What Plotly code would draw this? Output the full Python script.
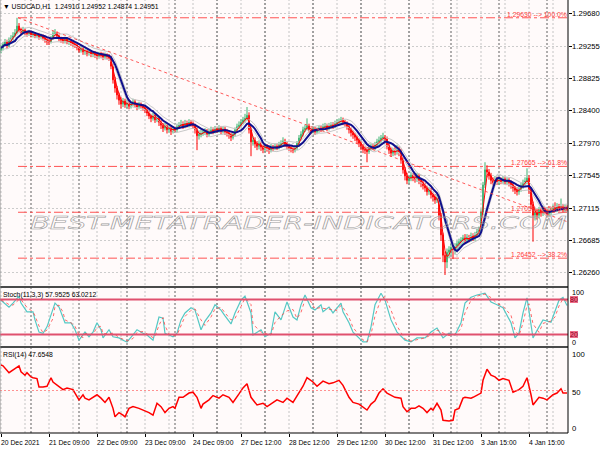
import plotly.graph_objects as go
import pandas as pd

# ---------------- data ----------------
OPEN_FIRST = 1.2920
CLOSE = [
 1.2923,1.2928,1.2931,1.2926,1.2934,1.2936,1.2939,1.2943,1.2952,1.2947,
 1.2944,1.2947,1.2943,1.2942,1.2944,1.2940,1.2942,1.2939,1.2940,1.2938,
 1.2939,1.2936,1.2934,1.2931,1.2931,1.2936,1.2942,1.2943,1.2939,1.2935,
 1.2934,1.2932,1.2935,1.2931,1.2932,1.2930,1.2928,1.2927,1.2924,1.2920,
 1.2922,1.2918,1.2919,1.2916,1.2918,1.2915,1.2916,1.2914,1.2912,1.2915,
 1.2914,1.2911,1.2914,1.2912,1.2910,1.2899,1.2881,1.2870,1.2861,1.2854,
 1.2849,1.2853,1.2848,1.2850,1.2846,1.2849,1.2852,1.2848,1.2845,1.2849,
 1.2846,1.2844,1.2841,1.2837,1.2833,1.2830,1.2834,1.2828,1.2830,1.2825,
 1.2821,1.2817,1.2820,1.2815,1.2817,1.2813,1.2816,1.2815,1.2819,1.2821,
 1.2823,1.2820,1.2824,1.2821,1.2825,1.2823,1.2820,1.2815,1.2807,1.2809,
 1.2811,1.2812,1.2813,1.2809,1.2812,1.2815,1.2813,1.2816,1.2815,1.2817,
 1.2813,1.2816,1.2812,1.2811,1.2808,1.2805,1.2809,1.2815,1.2819,1.2821,
 1.2825,1.2828,1.2830,1.2834,1.2815,1.2799,1.2801,1.2796,1.2793,1.2797,
 1.2792,1.2789,1.2793,1.2791,1.2788,1.2792,1.2791,1.2793,1.2792,1.2795,
 1.2797,1.2800,1.2796,1.2793,1.2791,1.2789,1.2788,1.2791,1.2797,1.2804,
 1.2809,1.2815,1.2817,1.2820,1.2815,1.2813,1.2816,1.2812,1.2815,1.2817,
 1.2816,1.2819,1.2820,1.2817,1.2820,1.2821,1.2820,1.2823,1.2825,1.2826,
 1.2828,1.2825,1.2823,1.2819,1.2815,1.2811,1.2808,1.2805,1.2801,1.2797,
 1.2793,1.2789,1.2788,1.2786,1.2791,1.2793,1.2792,1.2795,1.2799,1.2801,
 1.2804,1.2805,1.2803,1.2793,1.2788,1.2784,1.2787,1.2786,1.2788,1.2786,
 1.2775,1.2762,1.2754,1.2748,1.2751,1.2755,1.2752,1.2750,1.2754,1.2748,
 1.2745,1.2741,1.2738,1.2733,1.2735,1.2729,1.2726,1.2722,1.2725,1.2702,
 1.2676,1.2649,1.2640,1.2653,1.2656,1.2659,1.2656,1.2661,1.2664,1.2667,
 1.2669,1.2672,1.2669,1.2673,1.2670,1.2675,1.2672,1.2676,1.2680,1.2682,
 1.2706,1.2742,1.2762,1.2759,1.2754,1.2748,1.2745,1.2750,1.2746,1.2748,
 1.2747,1.2750,1.2746,1.2748,1.2745,1.2742,1.2738,1.2735,1.2733,1.2737,
 1.2741,1.2745,1.2747,1.2751,1.2735,1.2716,1.2702,1.2706,1.2702,1.2709,
 1.2705,1.2710,1.2708,1.2704,1.2706,1.2709,1.2712,1.2710,1.2714,1.2712,
 1.2713,1.2709,1.2712,1.2710]
HIGH = [
 1.2927,1.2931,1.2935,1.2934,1.2937,1.2940,1.2944,1.2948,1.2963,1.2956,
 1.2950,1.2951,1.2949,1.2946,1.2947,1.2946,1.2945,1.2944,1.2943,1.2943,
 1.2942,1.2941,1.2939,1.2937,1.2935,1.2939,1.2946,1.2948,1.2945,1.2941,
 1.2938,1.2936,1.2938,1.2937,1.2935,1.2935,1.2933,1.2931,1.2929,1.2926,
 1.2925,1.2924,1.2922,1.2921,1.2921,1.2920,1.2919,1.2919,1.2917,1.2918,
 1.2918,1.2917,1.2917,1.2916,1.2915,1.2913,1.2902,1.2885,1.2873,1.2864,
 1.2858,1.2857,1.2856,1.2854,1.2853,1.2852,1.2856,1.2855,1.2851,1.2852,
 1.2851,1.2849,1.2847,1.2844,1.2840,1.2836,1.2838,1.2837,1.2834,1.2833,
 1.2828,1.2824,1.2824,1.2822,1.2821,1.2820,1.2820,1.2819,1.2823,1.2825,
 1.2828,1.2826,1.2828,1.2827,1.2829,1.2828,1.2826,1.2823,1.2818,1.2814,
 1.2815,1.2816,1.2817,1.2816,1.2816,1.2819,1.2818,1.2820,1.2819,1.2821,
 1.2820,1.2820,1.2819,1.2816,1.2814,1.2811,1.2813,1.2818,1.2823,1.2826,
 1.2829,1.2832,1.2836,1.2845,1.2838,1.2818,1.2806,1.2805,1.2800,1.2801,
 1.2799,1.2795,1.2797,1.2796,1.2794,1.2796,1.2795,1.2797,1.2796,1.2799,
 1.2801,1.2805,1.2803,1.2799,1.2796,1.2794,1.2792,1.2794,1.2800,1.2808,
 1.2813,1.2819,1.2822,1.2830,1.2823,1.2818,1.2820,1.2819,1.2818,1.2821,
 1.2820,1.2823,1.2824,1.2823,1.2824,1.2825,1.2825,1.2827,1.2829,1.2830,
 1.2832,1.2831,1.2828,1.2826,1.2822,1.2818,1.2814,1.2811,1.2808,1.2804,
 1.2800,1.2796,1.2793,1.2791,1.2795,1.2797,1.2796,1.2799,1.2803,1.2806,
 1.2808,1.2811,1.2808,1.2806,1.2796,1.2791,1.2791,1.2792,1.2795,1.2793,
 1.2790,1.2778,1.2766,1.2758,1.2755,1.2759,1.2758,1.2756,1.2758,1.2757,
 1.2751,1.2748,1.2745,1.2741,1.2739,1.2738,1.2732,1.2730,1.2729,1.2728,
 1.2705,1.2679,1.2654,1.2658,1.2661,1.2664,1.2663,1.2665,1.2668,1.2671,
 1.2673,1.2676,1.2677,1.2677,1.2676,1.2679,1.2678,1.2680,1.2684,1.2687,
 1.2710,1.2746,1.2772,1.2768,1.2763,1.2758,1.2752,1.2754,1.2753,1.2752,
 1.2752,1.2754,1.2753,1.2752,1.2751,1.2748,1.2745,1.2741,1.2739,1.2741,
 1.2745,1.2749,1.2752,1.2764,1.2755,1.2738,1.2720,1.2712,1.2710,1.2713,
 1.2712,1.2714,1.2713,1.2711,1.2710,1.2713,1.2716,1.2719,1.2718,1.2717,
 1.2724,1.2717,1.2716,1.2715]
LOW = [
 1.2916,1.2920,1.2926,1.2922,1.2924,1.2931,1.2933,1.2937,1.2941,1.2944,
 1.2940,1.2941,1.2940,1.2938,1.2939,1.2937,1.2937,1.2936,1.2936,1.2934,
 1.2935,1.2933,1.2930,1.2927,1.2927,1.2929,1.2934,1.2939,1.2936,1.2932,
 1.2930,1.2929,1.2929,1.2928,1.2927,1.2926,1.2925,1.2923,1.2920,1.2917,
 1.2917,1.2914,1.2914,1.2912,1.2913,1.2911,1.2911,1.2910,1.2908,1.2909,
 1.2910,1.2907,1.2908,1.2908,1.2906,1.2895,1.2876,1.2864,1.2855,1.2848,
 1.2843,1.2845,1.2844,1.2844,1.2842,1.2843,1.2846,1.2845,1.2841,1.2842,
 1.2843,1.2840,1.2837,1.2833,1.2829,1.2825,1.2827,1.2824,1.2825,1.2820,
 1.2816,1.2812,1.2814,1.2810,1.2811,1.2808,1.2810,1.2811,1.2812,1.2816,
 1.2818,1.2816,1.2817,1.2818,1.2818,1.2819,1.2816,1.2810,1.2788,1.2802,
 1.2805,1.2807,1.2808,1.2805,1.2806,1.2809,1.2809,1.2810,1.2811,1.2811,
 1.2809,1.2810,1.2808,1.2806,1.2803,1.2800,1.2802,1.2806,1.2812,1.2816,
 1.2818,1.2822,1.2824,1.2827,1.2810,1.2780,1.2794,1.2791,1.2788,1.2789,
 1.2787,1.2784,1.2786,1.2786,1.2783,1.2785,1.2787,1.2788,1.2788,1.2789,
 1.2791,1.2794,1.2792,1.2789,1.2787,1.2785,1.2784,1.2785,1.2788,1.2795,
 1.2801,1.2806,1.2812,1.2814,1.2811,1.2809,1.2810,1.2808,1.2809,1.2811,
 1.2812,1.2813,1.2815,1.2813,1.2814,1.2816,1.2816,1.2817,1.2820,1.2821,
 1.2822,1.2821,1.2819,1.2815,1.2810,1.2806,1.2803,1.2800,1.2796,1.2792,
 1.2788,1.2784,1.2783,1.2772,1.2783,1.2787,1.2788,1.2788,1.2791,1.2795,
 1.2797,1.2800,1.2798,1.2789,1.2783,1.2779,1.2780,1.2781,1.2782,1.2780,
 1.2770,1.2757,1.2748,1.2743,1.2744,1.2747,1.2747,1.2745,1.2746,1.2743,
 1.2739,1.2736,1.2733,1.2728,1.2729,1.2724,1.2720,1.2717,1.2718,1.2695,
 1.2668,1.2640,1.2623,1.2632,1.2645,1.2649,1.2644,1.2650,1.2655,1.2658,
 1.2661,1.2664,1.2664,1.2665,1.2666,1.2667,1.2668,1.2668,1.2672,1.2676,
 1.2679,1.2702,1.2738,1.2752,1.2749,1.2743,1.2740,1.2741,1.2742,1.2742,
 1.2743,1.2743,1.2742,1.2742,1.2740,1.2737,1.2733,1.2730,1.2728,1.2729,
 1.2733,1.2737,1.2741,1.2743,1.2730,1.2710,1.2667,1.2695,1.2696,1.2698,
 1.2700,1.2701,1.2703,1.2699,1.2700,1.2702,1.2705,1.2706,1.2706,1.2707,
 1.2708,1.2705,1.2706,1.2707]
BARS = list(range(len(CLOSE)))
OPEN = [OPEN_FIRST] + CLOSE[:-1]

STOCH_X = [0,1,4,6,9,10,13,16,17,19,21,23,26,27,29,31,32,35,37,39,41,42,44,46,48,50,51,54,56,59,61,63,66,68,71,73,76,77,79,81,82,84,86,88,90,92,95,97,100,102,105,107,110,112,115,117,120,122,125,126,130,132,135,137,140,143,146,148,150,152,155,157,160,161,164,166,168,170,171,174,176,179,181,183,185,187,190,192,195,198,201,202,205,208,212,215,218,221,224,227,230,232,235,238,242,245,248,251,255,257,259,261,263,264,266,269,271,275,277,279,281,283]
STOCH_MAIN = [79,76,67,74,86,74,59,59,45,24,22,33,62,74,67,50,40,40,28,10,19,24,16,24,40,28,14,28,16,14,10,7,19,28,22,19,10,22,50,48,22,19,16,22,45,57,66,62,28,43,57,71,62,52,38,57,79,86,57,19,28,16,22,59,45,76,50,45,71,88,66,62,71,59,67,57,66,74,59,40,24,14,7,7,33,71,91,79,45,24,14,10,7,14,14,24,31,14,22,19,40,74,84,88,91,76,71,66,40,14,22,57,83,62,14,33,45,41,59,79,84,70]

RSI_X = [0,1,4,6,9,10,12,13,15,16,18,19,21,23,25,26,29,31,33,36,37,39,41,42,44,46,48,50,52,54,56,57,59,61,62,64,66,69,71,74,76,78,80,82,84,86,87,89,91,94,96,98,100,101,104,106,109,111,114,116,119,121,123,125,128,131,133,136,138,141,143,146,148,151,153,156,158,161,164,166,169,171,174,176,179,181,183,185,187,189,191,193,195,197,200,201,203,205,207,209,211,213,215,216,218,220,221,224,226,227,229,231,232,235,236,238,240,241,243,245,247,249,251,254,256,259,261,262,263,265,266,269,271,273,276,278,280,281,283]
RSI_VAL = [80,79,71,74,79,72,68,71,66,65,64,54,54,55,65,60,54,51,53,51,47,39,45,41,39,42,45,41,36,42,29,19,24,21,19,29,31,29,27,24,21,35,31,24,29,31,29,42,42,47,48,42,29,34,39,44,41,45,42,36,46,53,58,42,33,35,31,36,39,36,41,36,44,55,65,60,55,61,58,59,62,56,42,36,34,31,27,34,38,47,52,47,44,42,41,31,25,29,29,32,29,24,29,27,35,27,15,14,15,27,29,41,42,41,42,45,47,62,75,68,66,62,64,62,48,51,55,60,65,45,33,42,41,39,45,47,52,47,47]

X_TICK_BARS = [0, 24, 48, 72, 96, 120, 144, 168, 192, 216, 240, 264]
X_TICK_LABELS = ["20 Dec 2021", "21 Dec 09:00", "22 Dec 09:00", "23 Dec 09:00",
                 "24 Dec 09:00", "27 Dec 12:00", "28 Dec 12:00", "29 Dec 12:00",
                 "30 Dec 12:00", "31 Dec 12:00", "3 Jan 15:00", "4 Jan 15:00"]
DAY_SEPARATORS = [15, 39, 63, 87, 108, 132, 156, 180, 204, 225, 249, 273]
PRICE_TICKS = [1.29680, 1.29255, 1.28825, 1.28400, 1.27970, 1.27545, 1.27115, 1.26685, 1.26260]
PRICE_RANGE = [1.26084, 1.29865]
FIB_PRICES = [1.29630, 1.27665, 1.27059, 1.26452]
FIB_LABELS = ["1.29630 --> 100.0%", "1.27665 --> 61.8%", "1.27059 --> 50.0%", "1.26452 --> 38.2%"]
FIB_X = [8.5, 283.5]
TREND_X = [8.5, 283.5]
TREND_Y = [1.29630, 1.26930]
STOCH_LEVELS = [80, 20]
RSI_LEVEL = 50

HEADER_PRICE = "\u25bc USDCAD,H1  1.24910 1.24952 1.24874 1.24951"
HEADER_STOCH = "Stoch(11,3,3) 57.9525 63.0212"
HEADER_RSI = "RSI(14) 47.6548"
WATERMARK = "BEST-METATRADER-INDICATORS.COM"

# ---------------- derived indicator lines ----------------
cs = pd.Series(CLOSE)
ma_fast = cs.rolling(3, min_periods=1).mean()
ma_slow = cs.rolling(8, min_periods=1).mean()
env_up = ma_slow * 1.0004
env_dn = ma_slow * 0.9996
stoch_sig = pd.Series(STOCH_MAIN).rolling(2, min_periods=1).mean()

FONT = "Liberation Sans, Arial, sans-serif"
SMALL = 6.8
AXF = 7.7
H = 433.0  # plot-area height in px

def py(px):
    return (H - px) / H

fig = go.Figure()

fig.add_trace(go.Candlestick(
    x=BARS, open=OPEN, high=HIGH, low=LOW, close=CLOSE,
    increasing=dict(line=dict(color="#3cb371", width=1), fillcolor="#3cb371"),
    decreasing=dict(line=dict(color="#ff0000", width=1), fillcolor="#ff0000"),
    whiskerwidth=0, xaxis="x", yaxis="y", hoverinfo="skip"))

for s in (env_up, env_dn):
    fig.add_trace(go.Scatter(x=BARS, y=s, mode="lines",
                             line=dict(color="#c8c8c8", width=1), yaxis="y"))
fig.add_trace(go.Scatter(x=BARS, y=ma_fast, mode="lines",
                         line=dict(color="#ff0000", width=1), yaxis="y"))
fig.add_trace(go.Scatter(x=BARS, y=ma_slow, mode="lines",
                         line=dict(color="#10108c", width=2), yaxis="y"))
fig.add_trace(go.Scatter(x=TREND_X, y=TREND_Y, mode="lines",
                         line=dict(color="rgba(255,60,60,0.85)", width=1, dash="dot"), yaxis="y"))
for p in FIB_PRICES:
    fig.add_trace(go.Scatter(x=FIB_X, y=[p, p], mode="lines",
                             line=dict(color="rgba(255,40,40,0.8)", width=1, dash="dashdot"), yaxis="y"))

fig.add_trace(go.Scatter(x=STOCH_X, y=STOCH_MAIN, mode="lines",
                         line=dict(color="#55c8c4", width=1.2), yaxis="y2"))
fig.add_trace(go.Scatter(x=STOCH_X, y=stoch_sig, mode="lines",
                         line=dict(color="rgba(255,70,70,0.8)", width=1, dash="dot"), yaxis="y2"))
fig.add_trace(go.Scatter(x=RSI_X, y=RSI_VAL, mode="lines",
                         line=dict(color="#ff0000", width=1.5), yaxis="y3"))

shapes = []
for b in range(0, len(BARS), 12):
    shapes.append(dict(type="line", xref="x", yref="paper", x0=b, x1=b, y0=0, y1=1,
                       line=dict(color="#c4c4c4", width=1, dash="2px,2px"), layer="below"))
for b in DAY_SEPARATORS:
    shapes.append(dict(type="line", xref="x", yref="paper", x0=b, x1=b, y0=0, y1=1,
                       line=dict(color="#606060", width=1, dash="2px,2px"), layer="below"))
for lv in STOCH_LEVELS:
    shapes.append(dict(type="line", xref="paper", yref="y2", x0=0, x1=1, y0=lv, y1=lv,
                       line=dict(color="#e0506e", width=2)))
shapes.append(dict(type="line", xref="paper", yref="y3", x0=0, x1=1, y0=RSI_LEVEL, y1=RSI_LEVEL,
                   line=dict(color="rgba(255,100,100,0.7)", width=1, dash="2px,2px")))
for ypx in (287, 347):
    shapes.append(dict(type="line", xref="paper", yref="paper", x0=0, x1=1, y0=py(ypx), y1=py(ypx),
                       line=dict(color="#4a4a4a", width=2)))
shapes.append(dict(type="line", xref="paper", yref="paper", x0=1, x1=1, y0=0, y1=1,
                   line=dict(color="#000000", width=1)))
shapes.append(dict(type="line", xref="paper", yref="paper", x0=0, x1=1, y0=0, y1=0,
                   line=dict(color="#000000", width=1)))
shapes.append(dict(type="line", xref="paper", yref="paper", x0=0, x1=0, y0=0, y1=1,
                   line=dict(color="#909090", width=1)))

ann = []
def add_text(text, x, y, xref="paper", yref="paper", xanchor="left", yanchor="middle",
             size=SMALL, color="#000000", family=FONT, **kw):
    ann.append(dict(text=text, x=x, y=y, xref=xref, yref=yref, xanchor=xanchor,
                    yanchor=yanchor, showarrow=False, borderpad=0, borderwidth=0,
                    font=dict(size=size, color=color, family=family), **kw))

# watermark first (index 0) -> outlined / stretched via CSS in post_script
add_text(WATERMARK, 0.526, py(223), xanchor="center", size=25,
         family="DejaVu Sans", color="#a0a0a0")
ann[-1]["font"]["style"] = "italic"

add_text(HEADER_PRICE, 3 / 568, py(7))
add_text(HEADER_STOCH, 3 / 568, py(294.5))
add_text(HEADER_RSI, 3 / 568, py(355))

for p, t in zip(FIB_PRICES, FIB_LABELS):
    add_text(t, 0.998, p, yref="y", xanchor="right", yanchor="bottom", color="#ff3a3a")

for b, t in zip(X_TICK_BARS, X_TICK_LABELS):
    add_text(t, b, py(442), xref="x")

xl = 1 + 4 / 568
for v in PRICE_TICKS:
    add_text("%.5f" % v, xl, v, yref="y", size=AXF)
add_text("100", xl, (346 - 292) / 0.58, yref="y2", size=7.2)
add_text("0", xl, (346 - 342) / 0.58, yref="y2", size=7.2)
for lv in STOCH_LEVELS:
    add_text(str(lv), 1 + 2 / 568, lv, yref="y2", size=7, color="#8a0020",
             bgcolor="#ee6c88")
add_text("100", xl, (433 - 354) / 0.85, yref="y3", size=AXF)
add_text("50", xl, (433 - 392) / 0.85, yref="y3", size=AXF)
add_text("0", xl, (433 - 428) / 0.85, yref="y3", size=AXF)

fig.update_layout(
    width=600, height=450,
    margin=dict(l=0, r=32, t=0, b=17),
    paper_bgcolor="#ffffff", plot_bgcolor="#fffafa",
    showlegend=False, boxgap=0.5, hovermode=False,
    xaxis=dict(range=[-0.5, 283.5], anchor="y3", showgrid=False, zeroline=False,
               showline=False, tickvals=X_TICK_BARS, ticks="outside", ticklen=3,
               tickcolor="#000000", showticklabels=False,
               rangeslider=dict(visible=False)),
    yaxis=dict(domain=[py(286), 1.0], range=PRICE_RANGE, side="right", anchor="x",
               tickvals=PRICE_TICKS, ticks="outside", ticklen=3, tickcolor="#000000",
               showticklabels=False,
               showgrid=True, gridcolor="#cccccc", griddash="2px,2px", zeroline=False),
    yaxis2=dict(domain=[py(346), py(288)], range=[0, 100], anchor="x", side="right",
                showticklabels=False, showgrid=False, zeroline=False),
    yaxis3=dict(domain=[0, py(348)], range=[0, 100], anchor="x", side="right",
                showticklabels=False, showgrid=False, zeroline=False),
    shapes=shapes, annotations=ann,
)

PAGE_JS = (
    "document.documentElement.style.margin='0';"
    "document.body.style.margin='0';document.body.style.padding='0';"
    "var s=document.createElement('style');"
    "s.textContent='g.annotation[data-index=\"0\"] text{fill:none !important;"
    "stroke:#9a9a9a !important;stroke-width:0.7px !important;"
    "transform-box:fill-box;transform-origin:center;transform:scale(1.15,0.72);}';"
    "document.head.appendChild(s);"
)
fig.write_html("out.html", post_script=PAGE_JS,
               config={"displayModeBar": False, "staticPlot": True})
